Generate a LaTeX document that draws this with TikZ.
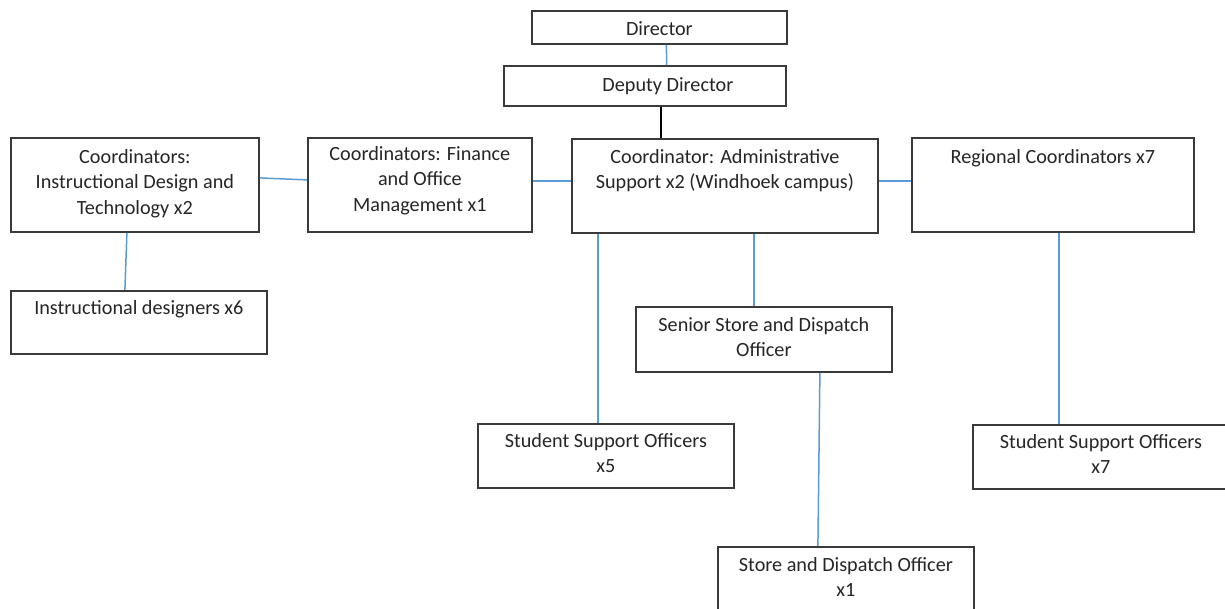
\documentclass[tikz,border=0pt]{standalone}
\usepackage{fontspec}
\setmainfont{Carlito}
\usetikzlibrary{positioning}
\definecolor{boxline}{HTML}{3A3A3A}
\definecolor{txtcol}{HTML}{262626}
\definecolor{linkblue}{HTML}{5B9BD5}
\begin{document}
\begin{tikzpicture}[x=1pt,y=-1pt,
  orgbox/.style={draw=boxline, line width=1.8pt, fill=white, inner sep=0pt, anchor=north west},
  txt/.style={text=txtcol, align=center, anchor=base, inner sep=0pt,
    font=\fontsize{20.2}{25.5}\selectfont},
  link/.style={draw=linkblue, line width=1.5pt},
  blacklink/.style={draw=black, line width=1.5pt}]
\useasboundingbox (0,0) rectangle (1225,608);
\clip (0,0) rectangle (1225,608);
\fill[white] (0,0) rectangle (1225,608);

% boxes: top-left corner, width, height
\node[orgbox, minimum width=255pt, minimum height=33pt] (dir) at (531,10) {};
\node[orgbox, minimum width=282pt, minimum height=40pt] (dep) at (503,65) {};
\node[orgbox, minimum width=248pt, minimum height=94pt] (idt) at (10,137) {};
\node[orgbox, minimum width=224pt, minimum height=94pt] (fin) at (307,137) {};
\node[orgbox, minimum width=306pt, minimum height=94pt] (adm) at (571,138) {};
\node[orgbox, minimum width=282pt, minimum height=94pt] (reg) at (911,137) {};
\node[orgbox, minimum width=256pt, minimum height=63pt] (des) at (10,290) {};
\node[orgbox, minimum width=256pt, minimum height=64pt] (ss5) at (477,423) {};
\node[orgbox, minimum width=256pt, minimum height=65pt] (sen) at (635,306) {};
\node[orgbox, minimum width=256pt, minimum height=64pt] (sto) at (717,546) {};
\node[orgbox, minimum width=256pt, minimum height=64pt] (ss7) at (972,424) {};

% box texts, placed by the baseline of their last line
\node[txt] (tdir) at ([yshift=-25pt]dir.north) {Director};
\node[txt] (tdep) at ([xshift=23pt,yshift=-26pt]dep.north) {Deputy Director};
\node[txt] (tidt) at ([yshift=-77pt]idt.north) {Coordinators:\\Instructional Design and\\Technology x2};
\node[txt] (tfin) at ([yshift=-74pt]fin.north) {Coordinators: Finance\\and Office\\Management x1};
\node[txt] (tadm) at ([yshift=-50.5pt]adm.north) {Coordinator: Administrative\\Support x2 (Windhoek campus)};
\node[txt] (treg) at ([yshift=-26pt]reg.north) {Regional Coordinators x7};
\node[txt] (tdes) at ([yshift=-24pt]des.north) {Instructional designers x6};
\node[txt] (tss5) at ([yshift=-49.5pt]ss5.north) {Student Support Officers\\x5};
\node[txt] (tsen) at ([yshift=-50.5pt]sen.north) {Senior Store and Dispatch\\Officer};
\node[txt] (tsto) at ([yshift=-50.5pt]sto.north) {Store and Dispatch Officer\\x1};
\node[txt] (tss7) at ([yshift=-49.5pt]ss7.north) {Student Support Officers\\x7};

% connectors
\draw[link] ([xshift=7pt]dir.south) -- ([xshift=21.7pt]dep.north);
\draw[blacklink] ([xshift=16pt]dep.south) -- ([xshift=-64pt]adm.north);
\draw[link] ([yshift=7pt]idt.east) -- ([yshift=5pt]fin.west);
\draw[link] ([yshift=4pt]fin.east) -- ([yshift=5pt]adm.west);
\draw[link] ([yshift=5pt]adm.east) -- ([yshift=4pt]reg.west);
\draw[link] ([xshift=-8pt]idt.south) -- ([xshift=-14pt]des.north);
\draw[link] ([xshift=-127pt]adm.south) -- ([xshift=-8pt]ss5.north);
\draw[link] ([xshift=29pt]adm.south) -- ([xshift=-10pt]sen.north);
\draw[link] ([xshift=56pt]sen.south) -- ([xshift=-28pt]sto.north);
\draw[link] ([xshift=6pt]reg.south) -- ([xshift=-42pt]ss7.north);
\end{tikzpicture}
\end{document}
